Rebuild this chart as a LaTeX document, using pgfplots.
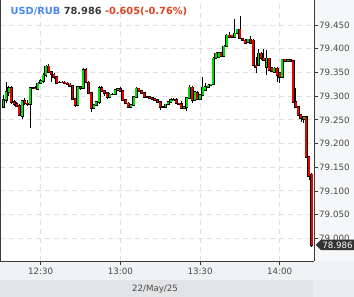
\documentclass[border=0pt]{standalone}
\usepackage{pgfplots}
\pgfplotsset{compat=1.18}
\usepackage{pgfplotstable}
\usepackage{fontspec}
\setmainfont{DejaVu Sans}
\usetikzlibrary{shapes.symbols}
\definecolor{axcol}{HTML}{3A3A3A}
\definecolor{labcol}{HTML}{4A4A4A}
\definecolor{gridcol}{HTML}{E0E0E0}
\definecolor{upcol}{HTML}{00DD00}
\definecolor{dncol}{HTML}{EE0000}
\definecolor{band1}{HTML}{F1F2F4}
\definecolor{band2}{HTML}{E3E4E6}
\definecolor{band3}{HTML}{ECEDEF}
\definecolor{rightbg}{HTML}{F6F7F8}
\definecolor{tagcol}{HTML}{333333}
\definecolor{tblue}{HTML}{4A88EE}
\definecolor{tgray}{HTML}{3A3A3A}
\definecolor{tred}{HTML}{E2421F}

\pgfplotstableread{
t o h l c
16 79.2770 79.3023 79.2749 79.2918
17 79.2918 79.3297 79.2848 79.3087
18 79.3087 79.3213 79.3002 79.3171
23 79.2580 79.2918 79.2517 79.2897
26 79.2833 79.3192 79.2327 79.3171
29 79.3150 79.3297 79.3129 79.3276
30 79.3276 79.3361 79.3255 79.3319
31 79.3319 79.3487 79.3276 79.3445
32 79.3445 79.3656 79.3403 79.3635
44 79.2812 79.3213 79.2791 79.3192
46 79.3171 79.3593 79.3150 79.3551
50 79.2749 79.2833 79.2728 79.2812
51 79.2812 79.2897 79.2791 79.2876
52 79.2876 79.3213 79.2833 79.3171
56 79.2981 79.3066 79.2960 79.3044
58 79.3044 79.3150 79.3023 79.3129
59 79.3129 79.3171 79.3108 79.3150
64 79.2776 79.2833 79.2749 79.2812
65 79.2812 79.3002 79.2791 79.2981
66 79.2981 79.3192 79.2960 79.3165
77 79.2776 79.2833 79.2770 79.2827
78 79.2827 79.2897 79.2812 79.2882
79 79.2882 79.2954 79.2876 79.2918
80 79.2918 79.2954 79.2907 79.2928
84 79.2749 79.2791 79.2728 79.2770
85 79.2770 79.2981 79.2686 79.2960
86 79.2960 79.3234 79.2939 79.3186
88 79.2918 79.3108 79.2907 79.3087
90 79.2939 79.3044 79.2918 79.3023
91 79.3023 79.3397 79.3002 79.3186
92 79.3129 79.3283 79.3108 79.3192
93 79.3192 79.3255 79.3171 79.3234
94 79.3234 79.3266 79.3224 79.3255
95 79.3255 79.3825 79.3234 79.3797
96 79.3797 79.3930 79.3783 79.3903
97 79.3831 79.3941 79.3814 79.3916
99 79.3852 79.4078 79.3835 79.4057
100 79.4057 79.4310 79.4036 79.4289
103 79.4253 79.4627 79.4247 79.4325
104 79.4325 79.4426 79.4310 79.4409
108 79.4148 79.4215 79.4131 79.4198
112 79.3656 79.3987 79.3635 79.3903
115 79.3620 79.3973 79.3445 79.3797
118 79.3515 79.3614 79.3498 79.3587
121 79.3409 79.3793 79.3392 79.3776
123 79.3741 79.3793 79.3719 79.3772
129 79.2517 79.2580 79.2426 79.2565
}\up

\pgfplotstableread{
t o h l c
19 79.3171 79.3213 79.2833 79.2876
20 79.2876 79.2918 79.2791 79.2833
21 79.2833 79.2876 79.2770 79.2791
22 79.2791 79.2833 79.2580 79.2601
24 79.2897 79.2960 79.2812 79.2854
25 79.2854 79.2918 79.2791 79.2833
27 79.3171 79.3192 79.3150 79.3171
28 79.3171 79.3213 79.3150 79.3165
33 79.3635 79.3677 79.3487 79.3509
34 79.3509 79.3530 79.3304 79.3466
35 79.3466 79.3487 79.3361 79.3403
36 79.3403 79.3424 79.3255 79.3276
37 79.3297 79.3319 79.3276 79.3297
38 79.3297 79.3319 79.3276 79.3290
39 79.3297 79.3319 79.3255 79.3276
40 79.3276 79.3297 79.3234 79.3255
41 79.3255 79.3276 79.3192 79.3213
42 79.3213 79.3234 79.2918 79.2939
43 79.2939 79.2960 79.2770 79.2812
45 79.3192 79.3213 79.3129 79.3171
47 79.3551 79.3593 79.3276 79.3297
48 79.3297 79.3319 79.3044 79.3066
49 79.3066 79.3087 79.2671 79.2749
53 79.3171 79.3213 79.3087 79.3108
54 79.3108 79.3129 79.3002 79.3066
55 79.3066 79.3087 79.2939 79.2981
57 79.3044 79.3066 79.3023 79.3044
60 79.3150 79.3192 79.3087 79.3108
61 79.3108 79.3129 79.2897 79.2918
62 79.2918 79.2939 79.2833 79.2854
63 79.2854 79.2876 79.2749 79.2776
67 79.3165 79.3182 79.3087 79.3108
68 79.3108 79.3129 79.3044 79.3066
69 79.3066 79.3087 79.2981 79.2987
70 79.2987 79.3002 79.2970 79.2987
71 79.2987 79.3002 79.2949 79.2970
72 79.2970 79.2981 79.2918 79.2939
73 79.2939 79.2960 79.2897 79.2918
74 79.2918 79.2939 79.2876 79.2882
75 79.2882 79.2897 79.2707 79.2776
76 79.2776 79.2791 79.2759 79.2776
81 79.2928 79.2954 79.2833 79.2848
82 79.2848 79.2865 79.2812 79.2833
83 79.2833 79.2897 79.2728 79.2749
87 79.3186 79.3213 79.2865 79.2918
89 79.3072 79.3108 79.2918 79.2939
98 79.3916 79.3930 79.3831 79.3852
101 79.4289 79.4352 79.4236 79.4253
102 79.4289 79.4300 79.4236 79.4253
105 79.4409 79.4696 79.4205 79.4219
106 79.4219 79.4236 79.4162 79.4184
107 79.4184 79.4205 79.4099 79.4114
109 79.4198 79.4268 79.4110 79.4127
110 79.4184 79.4205 79.3635 79.3656
111 79.3656 79.3831 79.3481 79.3620
113 79.3903 79.3930 79.3762 79.3797
114 79.3797 79.3987 79.3741 79.3762
116 79.3797 79.3814 79.3530 79.3551
117 79.3593 79.3614 79.3509 79.3530
119 79.3587 79.3607 79.3304 79.3445
120 79.3494 79.3509 79.3283 79.3409
122 79.3776 79.3793 79.3719 79.3741
124 79.3772 79.3793 79.3719 79.3741
125 79.3747 79.3762 79.2861 79.2882
126 79.2882 79.3165 79.2759 79.2776
127 79.2776 79.2791 79.2580 79.2601
128 79.2601 79.2622 79.2460 79.2532
130 79.2565 79.2591 79.1705 79.1722
131 79.1722 79.1736 79.1230 79.1314
132 79.1350 79.1378 78.9823 78.9860
}\down

\begin{document}
\begin{tikzpicture}
\fill[white] (0,0) rectangle (314bp,261bp);
\fill[rightbg] (314bp,0) rectangle (354bp,261bp);
\fill[band1] (0,-19bp) rectangle (354bp,0);
\fill[band2] (0,-36bp) rectangle (313bp,-19bp);
\fill[band3] (313bp,-36bp) rectangle (354bp,-19bp);
\begin{axis}[
  scale only axis, width=314bp, height=261bp,
  xmin=14.7, xmax=132.9, ymin=78.952, ymax=79.503,
  axis x line*=bottom, axis y line*=right,
  axis line style={color=axcol, line width=0.9bp},
  xtick={30,60,90,120}, xticklabels={12:30,13:00,13:30,14:00},
  ytick={79.000,79.050,79.100,79.150,79.200,79.250,79.300,79.350,79.400,79.450},
  /pgf/number format/fixed, /pgf/number format/fixed zerofill,
  /pgf/number format/precision=3, /pgf/number format/1000 sep={},
  /pgf/number format/assume math mode=true,
  tick align=outside, major tick length=4bp,
  tick style={color=axcol, line width=0.7bp},
  grid=major, major grid style={color=gridcol, dash pattern=on 5bp off 4bp, line width=0.8bp},
  ticklabel style={font=\fontsize{8.7bp}{10bp}\selectfont, text=labcol},
  xticklabel style={inner sep=2.5bp},
  yticklabel style={inner sep=1bp},
  extra y ticks={78.986}, extra y tick labels={78.986},
  extra y tick style={grid=none, major tick length=0bp,
    yticklabel style={fill=tagcol, text=white, shape=signal, signal to=west,
      signal pointer angle=90, inner ysep=2bp, inner xsep=1.2bp, xshift=1.5bp}},
  every error bar/.append style={line cap=butt},
]
\draw[axcol, line width=0.9bp] (rel axis cs:0,0) -- (rel axis cs:0,1);
% wicks
\addplot[draw=none, mark=none, error bars/.cd, y dir=plus, y explicit, error mark=none,
  error bar style={draw=black, line width=0.6bp}]
  table[x=t, y=l, y error expr=\thisrow{h}-\thisrow{l}] {\up};
\addplot[draw=none, mark=none, error bars/.cd, y dir=plus, y explicit, error mark=none,
  error bar style={draw=black, line width=0.6bp}]
  table[x=t, y=l, y error expr=\thisrow{h}-\thisrow{l}] {\down};
% body outlines
\addplot[draw=none, mark=none, error bars/.cd, y dir=both, y explicit, error mark=none,
  error bar style={draw=black, line width=3.0bp}]
  table[x=t, y=o, y error plus expr=\thisrow{c}-\thisrow{o}+0.0012, y error minus expr=0.0012] {\up};
\addplot[draw=none, mark=none, error bars/.cd, y dir=both, y explicit, error mark=none,
  error bar style={draw=black, line width=3.0bp}]
  table[x=t, y=c, y error plus expr=\thisrow{o}-\thisrow{c}+0.0012, y error minus expr=0.0012] {\down};
% body fills
\addplot[draw=none, mark=none, error bars/.cd, y dir=plus, y explicit, error mark=none,
  error bar style={draw=upcol, line width=1.9bp}]
  table[x=t, y=o, y error expr=\thisrow{c}-\thisrow{o}] {\up};
\addplot[draw=none, mark=none, error bars/.cd, y dir=plus, y explicit, error mark=none,
  error bar style={draw=dncol, line width=1.9bp}]
  table[x=t, y=c, y error expr=\thisrow{o}-\thisrow{c}] {\down};
\end{axis}
\node[anchor=base west, inner sep=0, font=\fontsize{9.8bp}{11bp}\selectfont\bfseries] at (10.5bp,246bp)
  {\textcolor{tblue}{USD/RUB} \textcolor{tgray}{78.986} \textcolor{tred}{-0.605(-0.76\%)}};
\node[anchor=base, inner sep=0, font=\fontsize{8.7bp}{10bp}\selectfont, text=labcol] at (155bp,-30.7bp) {22/May/25};
\pgfresetboundingbox
\path[use as bounding box] (0,-36bp) rectangle (354bp,261bp);
\end{tikzpicture}
\end{document}
